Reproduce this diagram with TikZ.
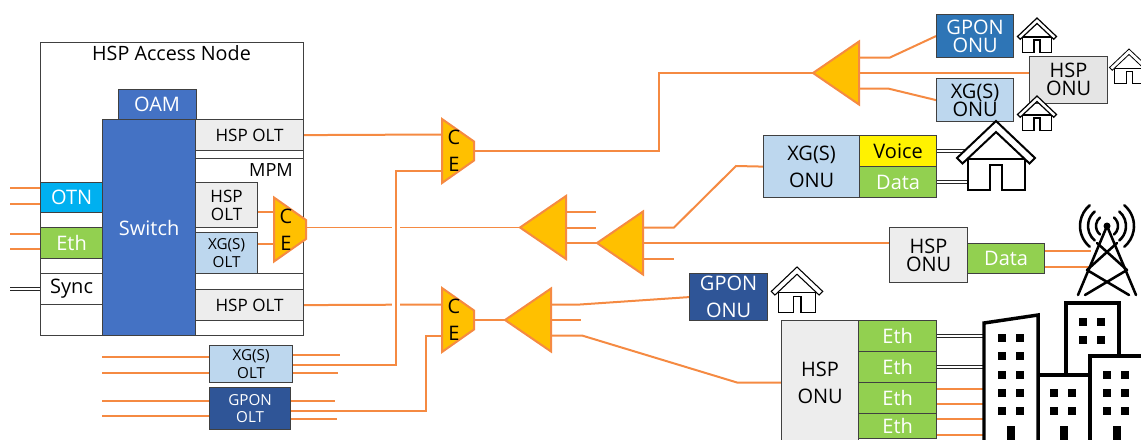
\documentclass[tikz,border=0pt]{standalone}
\usepackage{fontspec}
\setmainfont{Open Sans}
\usepackage{tikz}
\usetikzlibrary{backgrounds}
\definecolor{fibrecol}{HTML}{F58A42}
\definecolor{swblue}{HTML}{4472C4}
\definecolor{otncol}{HTML}{00B0F0}
\definecolor{ethcol}{HTML}{92D050}
\definecolor{xgcol}{HTML}{BDD7EE}
\definecolor{gpdark}{HTML}{2F5597}
\definecolor{gpmid}{HTML}{2E75B6}
\definecolor{hspcol}{HTML}{EDEDED}
\definecolor{splitcol}{HTML}{FFC000}
\tikzset{l/.style={font=\fontsize{15}{13.5}\selectfont}}
\tikzset{ll/.style={font=\fontsize{15}{20.5}\selectfont}}
\tikzset{n/.style={font=\fontsize{12.8}{13.5}\selectfont}}
\tikzset{m/.style={font=\fontsize{11.4}{13}\selectfont}}
\tikzset{box/.style 2 args={draw=black!75,line width=.9pt,anchor=north west,inner sep=0pt,align=center,l,minimum width=#1*.75pt,minimum height=#2*.75pt}}
\tikzset{fibre/.style={draw=fibrecol,line width=1.5pt}}
\tikzset{thinfibre/.style={draw=fibrecol,line width=1.05pt}}
\tikzset{cross/.style={preaction={draw=white,line width=6pt}}}
\tikzset{copper/.style={double=white,draw=black!85,line width=.9pt,double distance=1.4pt}}
\tikzset{bld/.style={draw=black,fill=white,line width=2.6pt}}
\tikzset{splitter/.pic={
    \draw[fibrecol,fill=splitcol,line width=1.5pt,line join=miter] (0,-31.5)--(-46,0)--(0,31.5)--cycle;
    \coordinate (tip) at (-46,0);
    \coordinate (outa) at (0,-15.5);
    \coordinate (outb) at (0,0);
    \coordinate (outc) at (0,15.5);
  }}
\tikzset{pics/combiner/.style 2 args={code={
    \draw[fibrecol,fill=splitcol,line width=1.5pt] (0,-32)--(32,-9.5)--(32,9.5)--(0,32)--cycle;
    \node[inner sep=0pt,align=center,font=\fontsize{15}{20}\selectfont] (txt) at (12,0) {C\\E};
    \coordinate (ina) at (0,#1);
    \coordinate (inb) at (0,#2);
    \coordinate (out) at (32,0);
  }}}
\tikzset{house/.pic={
    \draw[fill=white] (-28.5,38)--(-28.5,69)--(-6,69)--(-6,44)--(6,44)--(6,69)--(28.5,69)--(28.5,38)--cycle;
    \draw[fill=white] (0,0)--(39,37)--(33.5,42.5)--(0,11)--(-33.5,42.5)--(-39,37)--cycle;
  }}

\begin{document}
\begin{tikzpicture}[x=.75pt,y=-.75pt]
  \useasboundingbox (0,0) rectangle (1141,439);
  % access node
  \node[box={263}{293}] (hspnode) at (40,42) {};
  \node[inner sep=0pt,font=\fontsize{14.8}{15}\selectfont] (hspnodetxt) at (171.5,53) {HSP Access Node};
  \node[box={78}{30},fill=swblue,text=white] (oam) at (117.5,89) {OAM};
  \node[box={93}{216},fill=swblue,text=white] (switch) at (102,119) {Switch};
  \node[box={108}{31},fill=hspcol,n] (hsptop) at (195,119) {HSP OLT};
  \node[box={108}{115}] (mpm) at (195,158) {};
  \node[inner sep=0pt,font=\fontsize{13.6}{14}\selectfont] (mpmtxt) at (271,170) {MPM};
  \node[box={62}{45},fill=hspcol,n] (hspmid) at (195,182) {HSP\\OLT};
  \node[box={62}{41},fill=xgcol,m] (xgmid) at (195,232) {XG(S)\\OLT};
  \node[box={108}{31},fill=hspcol,n] (hspbot) at (195,289) {HSP OLT};
  \node[box={62}{30},fill=otncol,text=white] (otn) at (40,182) {OTN};
  \node[box={62}{31},fill=ethcol,text=white] (eth) at (40,227) {Eth};
  \node[box={62}{31}] (sync) at (40,273) {Sync};
  \pic (cem) at (274,229.5) {combiner={-17.5}{14.5}};

  % line cards below
  \node[box={83}{37},fill=xgcol,m] (xgolt) at (209,345) {XG(S)\\OLT};
  \node[box={81}{42},fill=gpdark,text=white,m] (gpolt) at (209,387) {GPON\\OLT};

  % combiners and splitters
  \pic (cea) at (442,151) {combiner={-16.5}{19.5}};
  \pic (ceb) at (442,320) {combiner={-15.5}{15.5}};
  \pic (spa) at (566,227.5) {splitter};
  \pic (spb) at (643,243) {splitter};
  \pic (spc) at (859,73) {splitter};
  \pic (spd) at (551,320) {splitter};

  % subscriber side
  \node[box={77}{43},fill=gpmid,text=white] (gpontA) at (936,14) {GPON\\ONU};
  \node[box={77}{43},fill=xgcol] (xgontA) at (936,78) {XG(S)\\ONU};
  \node[box={78}{47},fill=black!10] (hspontA) at (1029,55.5) {HSP\\ONU};
  \node[box={96}{62},fill=xgcol,ll] (xgontB) at (763,135) {XG(S)\\ONU};
  \node[box={77}{31},fill=yellow] (voice) at (859,135) {Voice};
  \node[box={77}{31},fill=ethcol,text=white] (dataA) at (859,166) {Data};
  \node[box={78}{55},fill=hspcol] (hspontB) at (889,227) {HSP\\ONU};
  \node[box={77}{30},fill=ethcol,text=white] (dataB) at (967,243) {Data};
  \node[box={78}{47},fill=gpdark,text=white,ll] (gpontB) at (689,273) {GPON\\ONU};
  \node[box={77}{124},fill=hspcol,ll] (hspontC) at (781,320) {HSP\\ONU};
  \node[box={78}{31},fill=ethcol,text=white] (etha) at (858,320) {Eth};
  \node[box={78}{31},fill=ethcol,text=white] (ethb) at (858,351) {Eth};
  \node[box={78}{31},fill=ethcol,text=white] (ethc) at (858,382) {Eth};
  \node[box={78}{25},fill=ethcol,text=white] (ethd) at (858,413) {Eth};

  % homes
  \pic[scale=.5,line width=.9pt] (homea) at (1037,18) {house};
  \pic[scale=.5,line width=.9pt] (homeb) at (1037,96) {house};
  \pic[scale=.5,line width=.6pt] (homec) at (1129,49) {house};
  \pic[scale=.66,line width=.8pt] (homed) at (797,267) {house};
  \pic[line width=1.5pt] (homee) at (996,121) {house};

  % city
  \draw[bld] (1066,375)--(1066,303)--(1119,303)--(1119,375)--cycle;
  \draw[bld] (1038,445)--(1038,375)--(1090,375)--(1090,445)--cycle;
  \draw[bld] (984,445)--(984,323)--(1038,315)--(1038,445)--cycle;
  \draw[bld] (1090,445)--(1090,356)--(1145,356)--(1145,445)--cycle;
  \foreach \x/\y in {1002/338,1020/338,1002/356,1020/356,1002/375,1020/375,1002/393,1020/393,1002/411,1020/411,
      1054/393,1072/393,1054/411,1072/411,1083/322,1101/322,1083/340,1101/340,
      1107/375,1125/375,1107/393,1125/393,1107/411,1125/411}
    \fill (\x-4,\y-4) rectangle +(8,8);
  \foreach \x in {1011,1064,1117}
    \fill (\x-4,426) rectangle (\x+4,440);

  % tower
  \coordinate (mast) at (1107,226);
  \fill (mast) circle (3.5);
  \begin{scope}[line width=1.9pt,line cap=round,line join=round]
    \draw (1078,295)--(mast)--(1136,295);
    \draw (1097,243)--(1127,270)--(1085,295);
    \draw (1117,243)--(1087,270)--(1129,295);
    \foreach \r in {11,19,27} {
      \draw (mast) ++(130:\r) arc[start angle=130,end angle=230,radius=\r];
      \draw (mast) ++(-50:\r) arc[start angle=-50,end angle=50,radius=\r];
    }
  \end{scope}

  \coordinate (bendc) at (659,73);
  \coordinate (jogxg) at (396,268);
  \coordinate (jogg) at (426,370);

  \begin{scope}[on background layer]
    \foreach \n/\y in {otn/188,otn/203.5,eth/233.5,eth/249}
      \draw[fibre] (\n.west |- 0,\y) -- ++(-30,0);
    \foreach \n/\y/\d in {xgolt/357/107,xgolt/372.5/107,gpolt/400.5/107,gpolt/416/107}
      \draw[fibre] (\n.west |- 0,\y) -- ++(-\d,0);
    \foreach \n/\y/\d in {xgolt/355/47,xgolt/373/45,gpolt/400.5/44,gpolt/419/46,dataB/251/46,dataB/267/46,ethc/389/47,ethc/404/47,ethd/419/47,ethd/434.5/47}
      \draw[fibre] (\n.east |- 0,\y) -- ++(\d,0);
    \draw[copper] (sync.west) -- ++(-30,0);
    \draw[copper] (voice.east) -- ++(32,0);
    \draw[copper] (dataA.east) -- ++(32,0);
    \draw[copper] (etha.east) -- ++(47,0);
    \draw[copper] (ethb.east) -- ++(47,0);

    \draw[fibre] (hspmid.east |- cemina) -- (cemina);
    \draw[fibre] (xgmid.east |- ceminb) -- (ceminb);
    \draw[thinfibre] (cemout |- spatip) -- (spatip);
    \draw[fibre] (hsptop.east) -- (ceaina);
    \draw[fibre] (hspbot.east) -- (cebina);
    \draw[fibre,cross] (xgolt.east |- 0,365) -| (jogxg) |- (ceainb);
    \draw[fibre] (gpolt.east |- 0,410.5) -| (jogg) |- (cebinb);
    \draw[fibre] (ceaout) -| (bendc) -- (spctip);
    \draw[fibre] (cebout |- spdtip) -- (spdtip);

    \draw[fibre] (spcouta) -- ++(31,0) -- (gpontA.west);
    \draw[fibre] (spcoutb) -- (hspontA.west |- spcoutb);
    \draw[fibre] (spcoutc) -- ++(29,0) -- (xgontA.west);

    \draw[fibre] (spaouta) -- ++(30,0);
    \draw[fibre] (spaoutb) -- ++(30,0);
    \draw[fibre] (spaoutc) -- (spbtip);

    \draw[fibre] (spbouta) -- ++(31,0) -- ++(62,-61.5) -- (xgontB.west);
    \draw[fibre] (spboutb) -- (hspontB.west |- spboutb);
    \draw[fibre] (spboutc) -- ++(31,0);

    \draw[fibre] (spdouta) -- ++(29,0) -- (gpontB.west);
    \draw[fibre] (spdoutb) -- ++(30,0);
    \draw[fibre] (spdoutc) -- ++(31,0) -- ++(155,47) -- (hspontC.west);
  \end{scope}
\end{tikzpicture}
\end{document}
